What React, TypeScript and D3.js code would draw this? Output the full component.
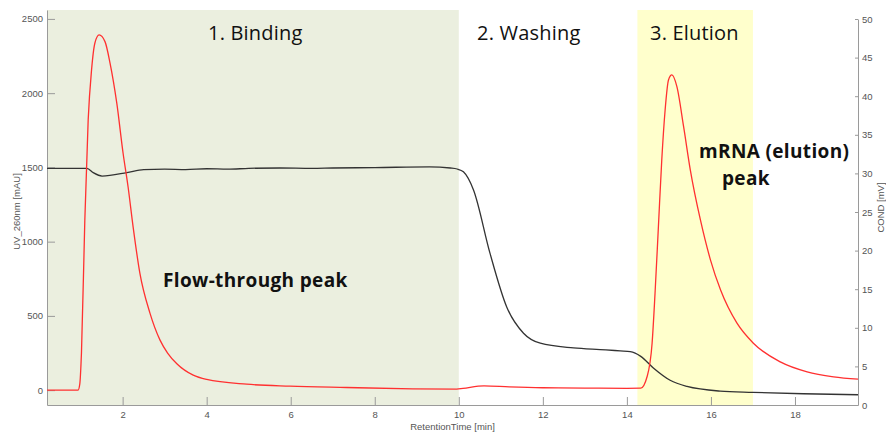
import React, { useEffect, useRef } from 'react';
import * as d3 from 'd3';

// UV 260nm trace (mAU)
const uvTime = [0.2, 0.94, 0.98, 1.02, 1.1, 1.18, 1.26, 1.34, 1.44, 1.58, 1.7, 1.86, 2.01, 2.13, 2.25, 2.41, 2.65, 2.89, 3.07, 3.29, 3.68, 4.0, 4.95, 5.98, 7.33, 8.9, 9.95, 10.1, 10.6, 11.2, 12, 13, 14.0, 14.33, 14.48, 14.6, 14.67, 14.75, 14.83, 14.91, 14.99, 15.07, 15.19, 15.35, 15.51, 15.75, 15.99, 16.23, 16.62, 17.01, 17.65, 18.29, 18.92, 19.5];
const uvValue = [0, 0, 40, 250, 1145, 1820, 2156, 2338, 2392, 2347, 2203, 1934, 1597, 1368, 1098, 788, 519, 337, 250, 178, 101, 72, 40, 27, 18, 9, 7, 12, 29, 22, 16, 14, 12, 13, 90, 316, 652, 1100, 1550, 1887, 2089, 2123, 2044, 1774, 1482, 1146, 876, 674, 451, 316, 190, 123, 90, 74];

// conductivity trace (mV)
const condTime = [0.2, 1.15, 1.3, 1.51, 2.1, 2.5, 3.0, 3.5, 4.0, 4.5, 5.0, 5.74, 6.5, 7.0, 8.0, 9.3, 9.8, 9.96, 10.11, 10.35, 10.74, 11.14, 11.54, 11.94, 12.73, 13.5, 13.84, 14.08, 14.33, 14.63, 15.03, 15.43, 16.22, 17.0, 18.2, 19.5];
const condValue = [30.66, 30.66, 30.1, 29.66, 30.1, 30.5, 30.55, 30.5, 30.6, 30.55, 30.65, 30.7, 30.65, 30.7, 30.75, 30.85, 30.7, 30.57, 30.2, 27.85, 19.7, 12.7, 9.3, 8.0, 7.4, 7.15, 7.0, 6.9, 6.3, 4.8, 3.2, 2.4, 1.8, 1.64, 1.46, 1.33];

const xTicks = [2, 4, 6, 8, 10, 12, 14, 16, 18];
const uvTicks = [0, 500, 1000, 1500, 2000, 2500];
const condTicks = [0, 5, 10, 15, 20, 25, 30, 35, 40, 45, 50];

const phaseNames = ['1. Binding', '2. Washing', '3. Elution'];
const phaseStart = [0.2, 10, 14.25];
const phaseEnd = [10, 14.25, 17];

const Chart = () => {
  const svgRef = useRef(null);

  useEffect(() => {
    const svg = d3.select(svgRef.current);
    svg.selectAll('*').remove();

    const left = 47, right = 858, top = 10, bottom = 405;

    const x = d3.scaleLinear().domain([0.2, 19.5]).range([left, right]);
    const yUV = d3.scaleLinear().domain([-100, 2560]).range([bottom, top]);
    const yCond = d3.scaleLinear().domain([0, 50]).range([bottom, 19]);

    // phase backgrounds
    const shade = ['#ebefdf', 'none', '#ffffcc'];
    svg.append('g')
      .selectAll('rect')
      .data(phaseNames)
      .join('rect')
      .attr('x', (d, i) => x(phaseStart[i]))
      .attr('width', (d, i) => x(phaseEnd[i]) - x(phaseStart[i]))
      .attr('y', top)
      .attr('height', bottom - top)
      .attr('fill', (d, i) => shade[i]);

    const styleAxis = (g) => {
      g.selectAll('path, line').attr('stroke', '#9a9a9a');
      g.selectAll('text')
        .attr('fill', '#555')
        .style('font-family', '"Liberation Sans", Arial, sans-serif')
        .style('font-size', '9.5px');
    };
    const fmt = d3.format('d');

    svg.append('g')
      .attr('transform', `translate(0,${bottom})`)
      .call(d3.axisBottom(x).tickValues(xTicks).tickFormat(fmt).tickSizeInner(-8).tickSizeOuter(0).tickPadding(6.5))
      .call(styleAxis);

    svg.append('g')
      .attr('transform', `translate(${left},0)`)
      .call(d3.axisLeft(yUV).tickValues(uvTicks).tickFormat(fmt).tickSizeInner(-8).tickSizeOuter(0).tickPadding(4))
      .call(styleAxis);

    svg.append('g')
      .attr('transform', `translate(${right},0)`)
      .call(d3.axisRight(yCond).tickValues(condTicks).tickFormat(fmt).tickSizeInner(-3).tickSizeOuter(0).tickPadding(4))
      .call(styleAxis)
      .call((g) => g.selectAll('text').attr('text-anchor', 'start'));

    svg.selectAll('.domain').attr('fill', 'none');

    const axisFont = '"Liberation Sans", Arial, sans-serif';
    svg.append('text')
      .attr('transform', `translate(19.5,${(top + bottom) / 2 + 4}) rotate(-90)`)
      .attr('text-anchor', 'middle')
      .style('font-family', axisFont).style('font-size', '9.5px')
      .attr('fill', '#555')
      .text('UV_260nm [mAU]');
    svg.append('text')
      .attr('transform', `translate(883.5,${(top + bottom) / 2}) rotate(-90)`)
      .attr('text-anchor', 'middle')
      .style('font-family', axisFont).style('font-size', '9.5px')
      .attr('fill', '#555')
      .text('COND [mV]');
    svg.append('text')
      .attr('x', (left + right) / 2)
      .attr('y', 429.5)
      .attr('text-anchor', 'middle')
      .style('font-family', axisFont).style('font-size', '9.5px')
      .attr('fill', '#555')
      .text('RetentionTime [min]');

    // traces
    const condLine = d3.line()
      .x((d, i) => x(condTime[i]))
      .y((d) => yCond(d))
      .curve(d3.curveMonotoneX);
    svg.append('path')
      .datum(condValue)
      .attr('fill', 'none')
      .attr('stroke', '#333')
      .attr('stroke-width', 1.3)
      .attr('d', condLine);

    const uvLine = d3.line()
      .x((d, i) => x(uvTime[i]))
      .y((d) => yUV(d))
      .curve(d3.curveMonotoneX);
    svg.append('path')
      .datum(uvValue)
      .attr('fill', 'none')
      .attr('stroke', '#ff3030')
      .attr('stroke-width', 1.3)
      .attr('d', uvLine);

    // annotations
    const noteFont = '"Open Sans", sans-serif';
    const phaseLabelX = [208, 477, 650];
    svg.append('g')
      .selectAll('text')
      .data(phaseNames)
      .join('text')
      .attr('x', (d, i) => phaseLabelX[i])
      .attr('y', 40)
      .style('font-family', noteFont)
      .style('font-size', '20px')
      .style('letter-spacing', '0.2px')
      .attr('fill', '#111')
      .text((d) => d);

    const notes = [
      { t: 'Flow-through peak', x: 163, y: 287 },
      { t: 'mRNA (elution)', x: 699, y: 158 },
      { t: 'peak', x: 722, y: 185 },
    ];
    svg.append('g')
      .selectAll('text')
      .data(notes)
      .join('text')
      .attr('x', (d) => d.x)
      .attr('y', (d) => d.y)
      .style('font-family', noteFont)
      .style('font-size', '19px')
      .style('letter-spacing', '0.35px')
      .style('font-weight', 'bold')
      .attr('fill', '#111')
      .text((d) => d.t);
  }, []);

  return <svg ref={svgRef} width={886} height={434} style={{ position: 'absolute', left: 0, top: 0, background: '#fff' }} />;
};

export default function App() {
  return <Chart />;
}
